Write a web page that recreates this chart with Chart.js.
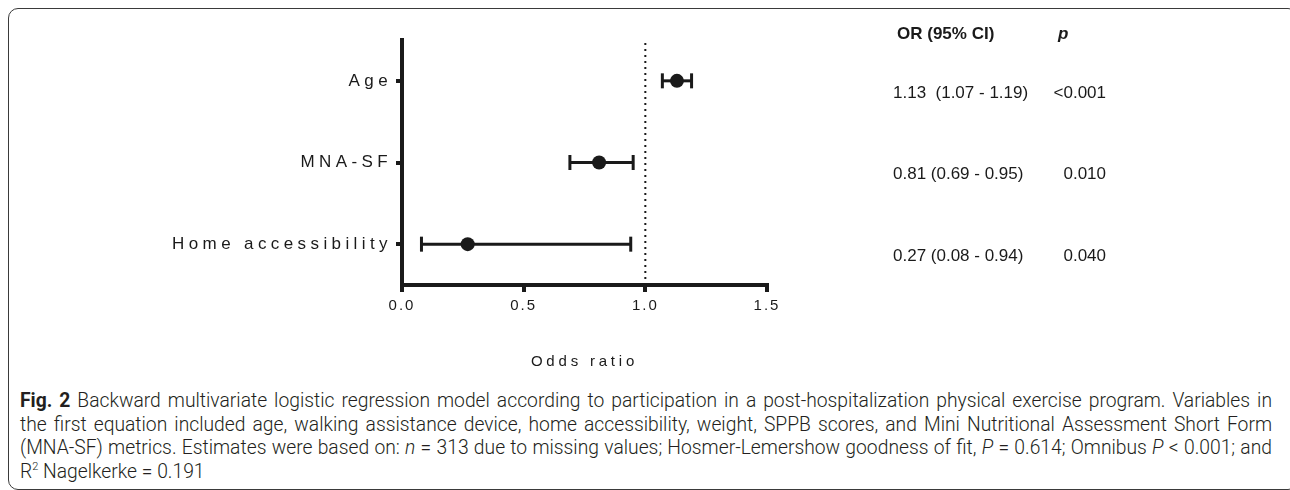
<!DOCTYPE html>
<html>
<head>
<meta charset="utf-8">
<script src="https://cdn.jsdelivr.net/npm/chart.js@4.4.1/dist/chart.umd.min.js"></script>
<style>
  html, body { margin: 0; padding: 0; background: #fff; }
  body { width: 1290px; height: 490px; overflow: hidden; position: relative; }
  #frame {
    position: absolute; left: 8px; top: 8px; width: 1290px; height: 482px;
    border: 1.5px solid #3a3a3a; border-radius: 10px; box-sizing: border-box;
  }
  #chart { position: absolute; left: 0; top: 0; }
  #caption {
    position: absolute; left: 20px; top: 389px; width: 1252px;
    font-family: Roboto, "Open Sans", sans-serif; font-weight: 300;
    font-size: 19.3px; line-height: 23.5px; color: #231f20;
  }
  #caption div { white-space: nowrap; text-align: justify; text-align-last: justify; }
  #caption div.last { text-align-last: left; }
  #caption b { font-weight: 700; }
  #caption sup { font-size: 11px; line-height: 0; vertical-align: 8px; }
</style>
</head>
<body>
<div id="frame"></div>
<canvas id="chart" width="1290" height="385"></canvas>
<div id="caption">
  <div><b>Fig. 2</b> Backward multivariate logistic regression model according to participation in a post-hospitalization physical exercise program. Variables in</div>
  <div>the first equation included age, walking assistance device, home accessibility, weight, SPPB scores, and Mini Nutritional Assessment Short Form</div>
  <div>(MNA-SF) metrics. Estimates were based on: <i>n</i> = 313 due to missing values; Hosmer-Lemershow goodness of fit, <i>P</i> = 0.614; Omnibus <i>P</i> &lt; 0.001; and</div>
  <div class="last">R<sup>2</sup> Nagelkerke = 0.191</div>
</div>
<script>
const labels = ["Age", "MNA-SF", "Home accessibility"];
const rowPos = [3, 2, 1];
const oddsRatio = [1.13, 0.81, 0.27];
const ciLow = [1.07, 0.69, 0.08];
const ciHigh = [1.19, 0.95, 0.94];
const orLabels = ["1.13  (1.07 - 1.19)", "0.81 (0.69 - 0.95)", "0.27 (0.08 - 0.94)"];
const pLabels = ["<0.001", "0.010", "0.040"];
const xTicks = [0, 0.5, 1.0, 1.5];
const refLine = 1.0;

const INK = "#1a1a1a";

// wrap a scale method so its text is drawn letter-spaced
function spaced(method, spacing) {
  return function (scale) {
    if (scale["_sp_" + method]) return;
    const orig = scale[method];
    scale[method] = function (...args) {
      this.ctx.save();
      this.ctx.letterSpacing = spacing;
      orig.apply(this, args);
      this.ctx.restore();
    };
    scale["_sp_" + method] = true;
  };
}

const datasets = [
  {
    type: "scatter",
    data: labels.map((l, i) => ({ x: oddsRatio[i], y: rowPos[i] })),
    pointRadius: 7,
    pointBackgroundColor: INK,
    pointBorderColor: INK,
    pointBorderWidth: 0
  }
];
labels.forEach((l, i) => {
  datasets.push({
    type: "line",
    data: [{ x: ciLow[i], y: rowPos[i] }, { x: ciHigh[i], y: rowPos[i] }],
    borderColor: INK,
    borderWidth: 3,
    pointStyle: "line",
    rotation: 90,
    pointRadius: 7.5,
    pointBorderWidth: 3,
    pointBorderColor: INK
  });
});
datasets.push({
  type: "line",
  data: [{ x: refLine, y: 0.5 }, { x: refLine, y: 3.5 }],
  borderColor: INK,
  borderWidth: 2,
  borderDash: [2, 4],
  pointRadius: 0
});

const tablePlugin = {
  id: "table",
  afterDraw(chart) {
    const ctx = chart.ctx;
    const y = chart.scales.y;
    function txt(s, x, yy, font, align) {
      ctx.save();
      ctx.font = font;
      ctx.fillStyle = INK;
      ctx.textBaseline = "middle";
      ctx.textAlign = align || "left";
      ctx.fillText(s, x, yy);
      ctx.restore();
    }
    txt("OR (95% CI)", 897, 34, 'bold 17px "Liberation Sans", Arial', "left");
    txt("p", 1058, 34, 'italic bold 17px "Liberation Sans", Arial', "left");
    labels.forEach((l, i) => {
      const py = y.getPixelForValue(rowPos[i]) + 12;
      txt(orLabels[i], 893, py, '17px "Liberation Sans", Arial', "left");
      txt(pLabels[i], 1106, py, '17px "Liberation Sans", Arial', "right");
    });
  }
};

new Chart(document.getElementById("chart"), {
  data: { datasets },
  options: {
    responsive: false,
    animation: false,
    events: [],
    layout: { padding: { left: 0, top: 40, right: 523, bottom: 0 } },
    plugins: { legend: { display: false }, tooltip: { enabled: false } },
    scales: {
      x: {
        type: "linear",
        min: 0,
        max: 1.5,
        afterBuildTicks: (s) => { s.ticks = xTicks.map(v => ({ value: v })); },
        afterFit: (s) => { s.height = 100; },
        afterUpdate: (s) => { spaced("drawLabels", "2px")(s); spaced("drawTitle", "3.8px")(s); },
        border: { display: true, width: 4, color: INK },
        grid: { drawOnChartArea: false, drawTicks: true, tickLength: 7, lineWidth: 4, color: INK },
        ticks: {
          padding: 5,
          color: INK,
          font: { family: "Liberation Sans", size: 15 },
          callback: (v) => Number(v).toFixed(1)
        },
        title: {
          display: true,
          text: "Odds ratio",
          color: INK,
          font: { family: "Liberation Sans", size: 15 },
          padding: { top: 0, bottom: 14 }
        }
      },
      y: {
        type: "linear",
        min: 0.5,
        max: 3.5,
        afterBuildTicks: (s) => { s.ticks = rowPos.map(v => ({ value: v })); },
        afterFit: (s) => { s.width = 402; },
        afterUpdate: spaced("drawLabels", "4.4px"),
        border: { display: true, width: 4, color: INK },
        grid: { drawOnChartArea: false, drawTicks: true, tickLength: 6, lineWidth: 4, color: INK },
        ticks: {
          padding: 4,
          color: INK,
          font: { family: "Liberation Sans", size: 17 },
          callback: (v) => labels[rowPos.indexOf(v)]
        }
      }
    }
  },
  plugins: [tablePlugin]
});
</script>
</body>
</html>
